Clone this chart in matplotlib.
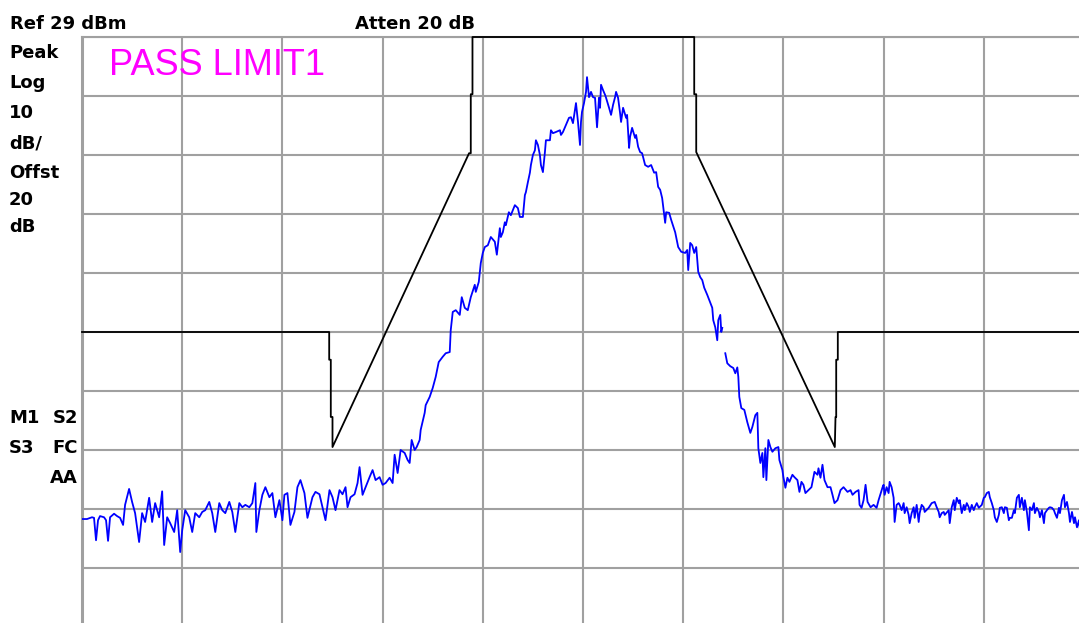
import numpy as np
import matplotlib
matplotlib.use("Agg")
import matplotlib.pyplot as plt

# Spectrum analyser screen: Ref 29 dBm, 10 dB/div, 10 horizontal divisions
ref_level = 29.0
db_per_div = 10.0

# measured trace (x in screen divisions, level in dBm)
trace_x = [
    0.00, 0.05, 0.10, 0.12, 0.14, 0.16, 0.18, 0.22, 0.24, 0.26, 0.28, 0.32, 0.35, 0.38,
    0.41, 0.43, 0.47, 0.50, 0.53, 0.57, 0.60, 0.63, 0.67, 0.70, 0.73, 0.77, 0.80, 0.82,
    0.85, 0.88, 0.92, 0.95, 0.98, 1.00, 1.03, 1.07, 1.10, 1.13, 1.17, 1.20, 1.23, 1.27,
    1.30, 1.33, 1.37, 1.40, 1.43, 1.47, 1.50, 1.53, 1.57, 1.60, 1.63, 1.67, 1.70, 1.73,
    1.74, 1.77, 1.80, 1.83, 1.87, 1.90, 1.93, 1.97, 2.00,
    2.02, 2.05, 2.08, 2.12, 2.15, 2.18, 2.22, 2.25, 2.30, 2.33, 2.37, 2.40, 2.43, 2.47,
    2.50, 2.53, 2.57, 2.60, 2.63, 2.65, 2.68, 2.72, 2.75, 2.77, 2.80, 2.83, 2.87, 2.90,
    2.93, 2.97, 3.00, 3.03, 3.07, 3.10, 3.12, 3.15, 3.18, 3.22, 3.25, 3.27, 3.29, 3.32,
    3.34, 3.37, 3.38, 3.42, 3.43, 3.47, 3.50, 3.53, 3.56, 3.60, 3.63, 3.67, 3.68, 3.70,
    3.73, 3.77, 3.79, 3.82, 3.85, 3.88, 3.92, 3.93, 3.96, 3.98, 4.00,
    4.02, 4.05, 4.08, 4.12, 4.14, 4.17, 4.18, 4.20, 4.22, 4.23, 4.26, 4.28, 4.32, 4.35,
    4.37, 4.40, 4.42, 4.43, 4.45, 4.47, 4.48, 4.50, 4.52, 4.53, 4.55, 4.57, 4.58, 4.60,
    4.62, 4.63, 4.67, 4.68, 4.70, 4.73, 4.77, 4.78, 4.80, 4.83, 4.86, 4.88, 4.90, 4.92,
    4.93, 4.95, 4.97, 4.98, 4.99, 5.01, 5.03, 5.04, 5.06, 5.08, 5.10, 5.12, 5.13, 5.14,
    5.16, 5.17, 5.18, 5.20, 5.22, 5.23, 5.26, 5.28, 5.30, 5.32, 5.33, 5.35, 5.37, 5.38,
    5.40, 5.43, 5.44, 5.46, 5.47, 5.49, 5.52, 5.53, 5.55, 5.57, 5.59, 5.62, 5.65, 5.68,
    5.71, 5.73, 5.75, 5.77, 5.79, 5.82, 5.83, 5.86, 5.88, 5.92, 5.95, 5.98, 6.02,
    6.04, 6.05, 6.07, 6.09, 6.11, 6.13, 6.15, 6.17, 6.19, 6.21, 6.24, 6.26, 6.29, 6.30,
    6.32, 6.34, 6.35, 6.37, 6.38, 6.39, 6.41, 6.42, 6.44, 6.47, 6.50, 6.52, 6.54, 6.55,
    6.56, 6.58, 6.61, 6.64, 6.67, 6.69, 6.72, 6.74, 6.75, 6.77, 6.79, 6.80, 6.82, 6.83,
    6.85, 6.87, 6.89, 6.92, 6.95, 6.96, 6.99, 7.00, 7.02, 7.04, 7.06, 7.09, 7.11, 7.14,
    7.16, 7.18, 7.20, 7.22, 7.25, 7.28, 7.31, 7.34, 7.35, 7.37, 7.39, 7.41, 7.44, 7.47,
    7.49, 7.51, 7.54, 7.57, 7.60, 7.64, 7.67, 7.69, 7.72, 7.75, 7.76, 7.78, 7.80, 7.82,
    7.84, 7.87, 7.90, 7.93, 7.95, 7.99,
    8.00, 8.01, 8.03, 8.05, 8.06, 8.08, 8.10, 8.11, 8.13, 8.15, 8.16, 8.18, 8.20, 8.21,
    8.23, 8.25, 8.26, 8.28, 8.30, 8.31, 8.33, 8.35, 8.36, 8.38, 8.40, 8.41, 8.45, 8.48,
    8.51, 8.53, 8.55, 8.56, 8.58, 8.60, 8.61, 8.65, 8.66, 8.68, 8.70, 8.71, 8.73, 8.75,
    8.76, 8.78, 8.80, 8.81, 8.83, 8.85, 8.86, 8.88, 8.90, 8.91, 8.93, 8.95, 8.98, 9.00,
    9.01, 9.03, 9.05, 9.06, 9.08, 9.10, 9.11, 9.13, 9.15, 9.16, 9.18, 9.20, 9.21, 9.23,
    9.25, 9.26, 9.28, 9.30, 9.31, 9.33, 9.35, 9.36, 9.38, 9.40, 9.41, 9.43, 9.45, 9.46,
    9.48, 9.50, 9.51, 9.53, 9.55, 9.56, 9.58, 9.60, 9.61, 9.63, 9.65, 9.66, 9.68, 9.70,
    9.71, 9.73, 9.75, 9.76, 9.78, 9.80, 9.81, 9.83, 9.85, 9.86, 9.88, 9.90, 9.91, 9.93,
    9.95, 9.96,
]
trace_dbm = [
    -52.7, -52.7, -52.4, -52.5, -56.3, -52.9, -52.2, -52.4, -52.9, -56.4, -52.4, -51.8, -52.2, -52.5,
    -53.7, -50.3, -47.6, -49.8, -51.7, -56.6, -51.7, -53.2, -49.1, -53.2, -50.0, -52.4, -48.0, -57.1,
    -52.4, -53.4, -54.9, -51.2, -58.3, -54.6, -51.2, -52.4, -54.9, -51.7, -52.4, -51.5, -51.2, -49.8,
    -51.7, -54.9, -50.0, -51.2, -51.7, -49.8, -51.5, -54.9, -50.0, -50.7, -50.3, -50.7, -50.0, -46.6,
    -54.9, -51.2, -48.6, -47.3, -49.0, -48.3, -52.4, -49.5, -52.9,
    -48.6, -48.3, -53.7, -51.5, -47.3, -46.1, -48.3, -52.5, -49.0, -48.1, -48.5, -50.7, -52.9, -47.8,
    -49.0, -51.2, -47.8, -48.5, -47.3, -50.7, -49.0, -48.5, -46.6, -43.9, -48.6, -47.3, -45.6, -44.4,
    -46.1, -45.6, -46.9, -46.6, -45.7, -46.6, -41.8, -44.9, -41.0, -41.5, -42.7, -43.2, -39.3, -41.0,
    -40.5, -39.3, -37.6, -34.7, -33.4, -32.0, -30.5, -28.6, -26.1, -25.2, -24.6, -24.4, -20.7, -17.6,
    -17.3, -18.1, -15.1, -16.9, -17.3, -15.1, -13.0, -14.2, -12.5, -9.3, -7.6,
    -6.6, -6.3, -4.9, -5.7, -7.9, -3.4, -4.9, -4.1, -2.4, -2.9, -0.7, -1.2, 0.5, 0.0,
    -1.5, -1.5, 2.2, 2.7, 4.4, 6.0, 7.3, 9.0, 9.8, 11.5, 10.7, 9.0, 7.3, 6.1,
    9.5, 11.5, 11.5, 13.2, 12.7, 12.9, 13.2, 12.4, 12.9, 14.1, 15.3, 15.4, 14.4, 16.6,
    17.8, 14.6, 10.7, 14.6, 16.3, 17.8, 19.7, 22.2, 18.8, 19.7, 18.8, 18.7, 16.3, 13.7,
    18.7, 17.0, 20.9, 20.0, 19.2, 18.7, 17.0, 15.8, 17.5, 18.8, 19.7, 18.7, 16.1, 14.6,
    17.0, 15.3, 15.8, 10.2, 12.1, 13.6, 11.9, 12.4, 10.4, 9.5, 9.3, 7.3, 7.0, 7.3,
    6.0, 6.1, 3.6, 3.1, 1.7, -2.5, -0.7, -0.8, -2.0, -4.1, -6.6, -7.4, -7.6,
    -7.1, -10.5, -5.9, -6.3, -7.6, -6.6, -10.8, -11.7, -12.2, -13.5, -14.7, -15.6, -16.9, -19.0,
    -20.2, -22.4, -19.0, -18.1, -21.0, -20.3, np.nan, -24.6, -26.3, -26.8, -27.1, -28.0, -27.0, -28.6,
    -32.0, -33.9, -34.2, -36.3, -38.1, -37.1, -35.1, -34.7, -40.7, -43.2, -41.5, -45.6, -40.7, -46.1,
    -39.3, -40.5, -41.3, -40.7, -40.5, -42.7, -44.4, -45.6, -47.4, -45.7, -46.4, -45.2, -45.6, -46.1,
    -48.1, -46.4, -46.9, -48.3, -47.8, -47.3, -44.7, -45.2, -44.1, -45.7, -43.5, -46.1, -47.3, -47.3,
    -48.6, -50.0, -49.5, -47.8, -47.3, -48.1, -47.8, -48.6, -48.1, -47.8, -50.3, -50.8, -49.5, -46.9,
    -49.8, -50.7, -50.3, -50.8, -49.5, -47.3,
    -46.9, -48.6, -47.3, -48.3, -46.4, -47.3, -49.1, -53.2, -50.3, -50.0, -50.3, -51.2, -50.0, -51.7,
    -50.7, -52.0, -53.4, -51.7, -50.7, -52.5, -50.3, -53.2, -51.7, -50.3, -50.7, -51.5, -50.8, -50.0,
    -49.8, -50.7, -51.5, -52.4, -51.7, -51.5, -52.0, -51.2, -53.4, -50.7, -49.5, -51.2, -49.1, -50.0,
    -49.5, -51.7, -50.3, -51.2, -50.0, -50.7, -51.5, -50.3, -51.2, -50.7, -50.0, -50.8, -50.3, -49.1,
    -49.0, -48.3, -48.1, -49.0, -50.0, -51.2, -52.4, -53.2, -52.0, -50.8, -50.7, -51.7, -50.7, -50.8,
    -52.9, -52.5, -52.5, -51.2, -51.7, -49.1, -48.6, -50.7, -49.1, -51.2, -49.5, -51.5, -54.6, -50.7,
    -51.2, -50.0, -51.7, -50.8, -51.5, -52.4, -51.2, -53.4, -51.7, -51.2, -50.8, -50.7, -50.8, -51.2,
    -51.7, -52.5, -50.8, -51.7, -49.5, -48.6, -50.7, -49.8, -51.7, -53.2, -51.5, -53.4, -52.4, -54.1,
    -52.9, -54.6,
]

# limit line (LIMIT1)
limit_x = [0.0, 2.467, 2.467, 2.483, 2.483, 2.50, 2.50, 3.863, 3.88, 3.88, 3.897, 3.897,
           6.11, 6.11, 6.13, 6.13, 7.513, 7.52, 7.527, 7.527, 7.543, 7.543, 10.0]
limit_dbm = [-21.0, -21.0, -25.7, -25.7, -35.4, -35.4, -40.5, 9.3, 9.3, 19.3, 19.3, 29.0,
             29.0, 19.3, 19.3, 9.5, -40.5, -35.4, -35.4, -25.7, -25.7, -21.0, -21.0]

left_labels = ["Peak", "Log", "10", "dB/", "Offst", "20", "dB"]
left_baselines = [58, 88, 118, 148, 178, 205, 232]   # pixel rows

W, H = 1079, 623
fig = plt.figure(figsize=(W / 100, H / 100), dpi=100)
fig.patch.set_facecolor("white")


def fx(px):
    return px / W


def fy(py):
    return (H - py) / H


# graticule: 10 divisions wide (82..1084 px), 10 tall (37..627 px)
ax = fig.add_axes([fx(82), fy(627), 1002 / W, 590 / H])
ax.set_xlim(0, 10)
ax.set_ylim(ref_level - 10 * db_per_div, ref_level)
ax.set_xticks(np.arange(0, 11))
ax.set_yticks(np.arange(ref_level - 10 * db_per_div, ref_level + 1, db_per_div))
ax.grid(True, color="#a0a0a0", linewidth=1.5)
ax.tick_params(length=0, labelbottom=False, labelleft=False)
for side in ["right", "bottom"]:
    ax.spines[side].set_visible(False)
ax.spines["left"].set_color("#a0a0a0")
ax.spines["left"].set_linewidth(2.2)
ax.spines["top"].set_color("#a0a0a0")
ax.spines["top"].set_linewidth(1.5)
ax.set_axisbelow(True)

ax.plot(limit_x, limit_dbm, color="black", linewidth=1.3, clip_on=False, zorder=3)
ax.plot(trace_x, trace_dbm, color="#0000ff", linewidth=1.3, zorder=4)

bold = dict(family="DejaVu Sans", fontsize=13, fontweight="bold", color="black")
fig.text(fx(10), fy(29), "Ref 29 dBm", ha="left", va="baseline", **bold)
fig.text(fx(355), fy(29), "Atten 20 dB", ha="left", va="baseline", **bold)
for lab, base in zip(left_labels, left_baselines):
    fig.text(fx(9), fy(base), lab, ha="left", va="baseline", **bold)
fig.text(fx(9), fy(423), "M1", ha="left", va="baseline", **bold)
fig.text(fx(78), fy(423), "S2", ha="right", va="baseline", **bold)
fig.text(fx(9), fy(453), "S3", ha="left", va="baseline", **bold)
fig.text(fx(78), fy(453), "FC", ha="right", va="baseline", **bold)
fig.text(fx(78), fy(483), "AA", ha="right", va="baseline", **bold)

fig.text(fx(109), fy(75), "PASS LIMIT1", ha="left", va="baseline",
         family="Liberation Sans", fontsize=26, color="#ff00ff")

fig.savefig("out.png", dpi=100, facecolor="white")
